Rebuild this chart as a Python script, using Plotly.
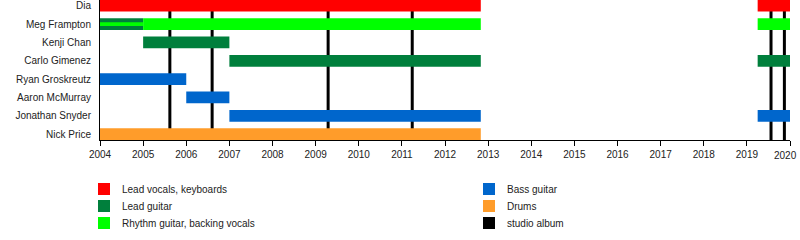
import plotly.graph_objects as go

# ---- data ----
members = ["Dia", "Meg Frampton", "Kenji Chan", "Carlo Gimenez",
           "Ryan Groskreutz", "Aaron McMurray", "Jonathan Snyder", "Nick Price"]
roles = ["Lead vocals, keyboards", "Lead guitar", "Rhythm guitar, backing vocals",
         "Bass guitar", "Drums", "studio album"]
role_colors = {
    "Lead vocals, keyboards": "#ff0000",
    "Lead guitar": "#007f3c",
    "Rhythm guitar, backing vocals": "#00ff00",
    "Bass guitar": "#0066cc",
    "Drums": "#ff9c2a",
    "studio album": "#000000",
}
# (member, role, start, end)
periods = [
    ("Dia", "Lead vocals, keyboards", 2004.0, 2012.83),
    ("Dia", "Lead vocals, keyboards", 2019.25, 2020.0),
    ("Meg Frampton", "Lead guitar", 2004.0, 2005.0),
    ("Meg Frampton", "Rhythm guitar, backing vocals", 2005.0, 2012.83),
    ("Meg Frampton", "Rhythm guitar, backing vocals", 2019.25, 2020.0),
    ("Kenji Chan", "Lead guitar", 2005.0, 2007.0),
    ("Carlo Gimenez", "Lead guitar", 2007.0, 2012.83),
    ("Carlo Gimenez", "Lead guitar", 2019.25, 2020.0),
    ("Ryan Groskreutz", "Bass guitar", 2004.0, 2006.0),
    ("Aaron McMurray", "Bass guitar", 2006.0, 2007.0),
    ("Jonathan Snyder", "Bass guitar", 2007.0, 2012.83),
    ("Jonathan Snyder", "Bass guitar", 2019.25, 2020.0),
    ("Nick Price", "Drums", 2004.0, 2012.83),
]
# secondary-role stripes (member, role, start, end)
stripes = [
    ("Meg Frampton", "Rhythm guitar, backing vocals", 2004.0, 2005.0),
]
albums = [2005.62, 2006.60, 2009.29, 2011.24, 2019.56, 2019.87]
years = list(range(2004, 2021))

# ---- figure ----
fig = go.Figure()
for role in roles[:-1]:
    rows = [p for p in periods if p[1] == role]
    if not rows:
        continue
    fig.add_trace(go.Bar(
        orientation="h",
        y=[r[0] for r in rows],
        base=[r[2] for r in rows],
        x=[r[3] - r[2] for r in rows],
        width=0.64,
        marker=dict(color=role_colors[role], line=dict(width=0)),
        showlegend=False, hoverinfo="skip",
    ))
for s in stripes:
    fig.add_trace(go.Bar(
        orientation="h", y=[s[0]], base=[s[2]], x=[s[3] - s[2]],
        width=0.2, marker=dict(color=role_colors[s[1]], line=dict(width=0)),
        showlegend=False, hoverinfo="skip",
    ))

for a in albums:
    fig.add_shape(type="line", xref="x", yref="paper", x0=a, x1=a, y0=0, y1=1,
                  line=dict(color="black", width=3), layer="below")

# manual legend (two columns)
L, T, W, H = 100, 0, 690, 140
def px_x(x):
    return (x - L) / W
def px_y(y):
    return (T + H - y) / H

cols = [(98, 120), (483, 505)]
ys = [189, 206, 223]
for i, role in enumerate(roles):
    cx, tx = cols[i // 3]
    cy = ys[i % 3]
    fig.add_shape(type="rect", xref="paper", yref="paper",
                  x0=px_x(cx), x1=px_x(cx + 12), y0=px_y(cy - 6), y1=px_y(cy + 6),
                  fillcolor=role_colors[role], line=dict(width=0))
    fig.add_annotation(xref="paper", yref="paper", x=px_x(tx), y=px_y(cy),
                       text=role, showarrow=False, xanchor="left", yanchor="middle",
                       font=dict(size=10, color="#222"))

# last year label, nudged left to stay inside the page
last = years[-1]
fig.add_annotation(xref="x", yref="paper", x=last, y=px_y(155), xshift=-5,
                   text=str(last), showarrow=False, xanchor="center", yanchor="middle",
                   font=dict(size=10, color="#222"))

fig.update_layout(
    width=800, height=240,
    margin=dict(l=100, r=10, t=0, b=100),
    paper_bgcolor="white", plot_bgcolor="white",
    barmode="overlay",
    font=dict(family="Liberation Sans, Arial, sans-serif", size=10, color="#222"),
)
fig.update_xaxes(range=[2004, 2020], tickvals=years,
                 ticktext=[str(y) if y != last else "" for y in years],
                 showgrid=False, zeroline=False, showline=True, linecolor="black",
                 linewidth=1, ticks="outside", ticklen=5, tickcolor="black",
                 tickfont=dict(size=10, color="#222"))
fig.update_yaxes(type="category", categoryorder="array",
                 categoryarray=list(reversed(members)),
                 range=[-0.316, 7.31], showgrid=False, zeroline=False,
                 showline=True, linecolor="black", linewidth=1, ticks="",
                 ticklabelstandoff=6, tickfont=dict(size=10, color="#222"))

fig.write_html("out.html")
